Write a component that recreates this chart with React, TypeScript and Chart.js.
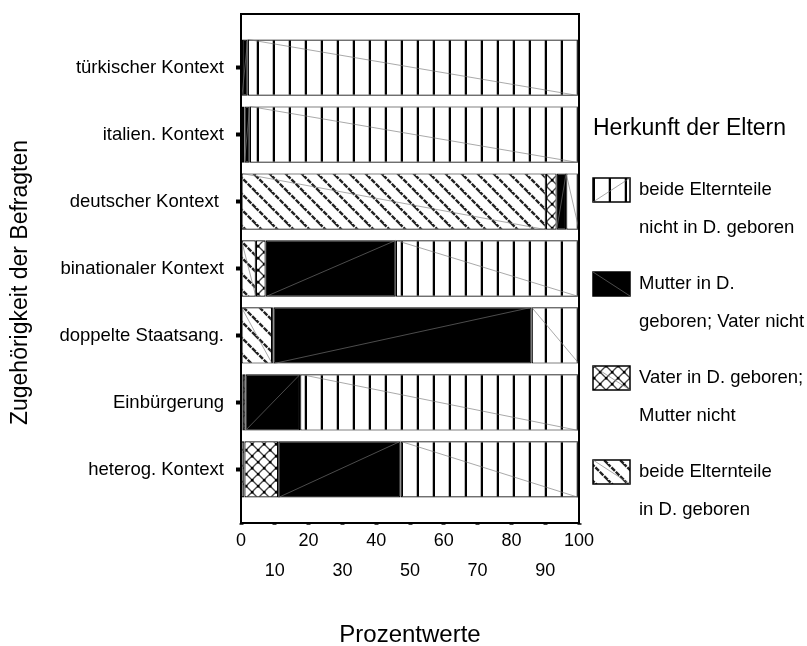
import React, { useEffect, useRef } from "react";
import { Chart, registerables } from "chart.js";

Chart.register(...registerables);

const categories = [
  "türkischer Kontext",
  "italien. Kontext",
  "deutscher Kontext ",
  "binationaler Kontext",
  "doppelte Staatsang.",
  "Einbürgerung",
  "heterog. Kontext",
];

// percentages per category (top to bottom)
const beideInD = [0, 0.3, 90.2, 4.4, 9.2, 0.5, 1.0];
const vaterInD = [0.3, 0.7, 3.2, 2.9, 0.4, 0.8, 10.0];
const mutterInD = [1.7, 1.6, 2.8, 38.5, 76.4, 16.2, 36.2];
const beideNichtInD = [98.0, 97.4, 3.8, 54.2, 14.0, 82.5, 52.8];

const xTicks = [0, 10, 20, 30, 40, 50, 60, 70, 80, 90, 100];

const yTitle = "Zugehörigkeit der Befragten";
const xTitle = "Prozentwerte";
const legendTitle = "Herkunft der Eltern";
const legendItems = [
  { key: "vertical", lines: ["beide Elternteile", "nicht in D. geboren"] },
  { key: "black", lines: ["Mutter in D.", "geboren; Vater nicht"] },
  { key: "cross", lines: ["Vater in D. geboren;", "Mutter nicht"] },
  { key: "diag", lines: ["beide Elternteile", "in D. geboren"] },
];

const FONT = "'Liberation Sans', Arial, sans-serif";

function makeTile(w: number, h: number, draw: (c: CanvasRenderingContext2D) => void) {
  const cv = document.createElement("canvas");
  cv.width = w;
  cv.height = h;
  const c = cv.getContext("2d")!;
  c.fillStyle = "#fff";
  c.fillRect(0, 0, w, h);
  draw(c);
  return cv;
}

function makePatterns(ctx: CanvasRenderingContext2D) {
  const vertical = makeTile(16, 16, (c) => {
    c.fillStyle = "#bbb";
    c.fillRect(0, 0, 1, 16);
    c.fillStyle = "#000";
    c.fillRect(1, 0, 2, 16);
  });
  const diag = makeTile(16, 16, (c) => {
    c.strokeStyle = "#222";
    c.lineWidth = 2.4;
    c.setLineDash([5, 1.2]);
    for (const k of [-16, 0, 16]) {
      c.beginPath();
      c.moveTo(k - 1, -1);
      c.lineTo(k + 17, 17);
      c.stroke();
    }
  });
  const cross = makeTile(12, 12, (c) => {
    c.strokeStyle = "#444";
    c.lineWidth = 1.3;
    for (const k of [-12, 0, 12]) {
      c.beginPath();
      c.moveTo(k - 1, -1);
      c.lineTo(k + 13, 13);
      c.stroke();
      c.beginPath();
      c.moveTo(k - 1, 13);
      c.lineTo(k + 13, -1);
      c.stroke();
    }
    c.fillStyle = "#000";
    c.fillRect(5, 5, 2.5, 2.5);
    c.fillRect(-1, -1, 2.5, 2.5);
    c.fillRect(11, 11, 2, 2);
    c.fillRect(11, -1, 2, 2.5);
    c.fillRect(-1, 11, 2.5, 2);
  });
  return {
    vertical: ctx.createPattern(vertical, "repeat")!,
    diag: ctx.createPattern(diag, "repeat")!,
    cross: ctx.createPattern(cross, "repeat")!,
    black: "#000",
  } as Record<string, any>;
}

export default function App() {
  const ref = useRef<HTMLCanvasElement | null>(null);

  useEffect(() => {
    document.body.style.margin = "0";
    const canvas = ref.current!;
    const ctx = canvas.getContext("2d")!;
    const pats = makePatterns(ctx);

    const toPoints = (arr: number[]) => arr.map((v, i) => ({ x: v, y: i }));

    const diagLinePlugin = {
      id: "segDiag",
      afterDatasetsDraw(chart: any) {
        const c = chart.ctx;
        c.save();
        c.strokeStyle = "rgba(120,120,120,0.8)";
        c.lineWidth = 0.8;
        chart.data.datasets.forEach((ds: any, di: number) => {
          const kind = ds.kind;
          if (kind === "cross") return;
          const meta = chart.getDatasetMeta(di);
          meta.data.forEach((el: any) => {
            const p = el.getProps(["x", "y", "base", "height"], true);
            if (Math.abs(p.x - p.base) < 3) return;
            const top = p.y - p.height / 2;
            const bot = p.y + p.height / 2;
            c.beginPath();
            if (kind === "black") {
              c.moveTo(p.base, bot);
              c.lineTo(p.x, top);
            } else {
              c.moveTo(p.base, top);
              c.lineTo(p.x, bot);
            }
            c.stroke();
          });
        });
        c.restore();
      },
    };

    const framePlugin = {
      id: "frameLegend",
      afterDraw(chart: any) {
        const c = chart.ctx;
        const a = chart.chartArea;
        c.save();
        c.strokeStyle = "#000";
        c.lineWidth = 2;
        c.strokeRect(a.left, a.top, a.right - a.left, a.bottom - a.top);

        // y-axis title
        c.save();
        c.translate(21, (a.top + a.bottom) / 2 + 14);
        c.rotate(-Math.PI / 2);
        c.fillStyle = "#000";
        c.font = `23px ${FONT}`;
        c.textAlign = "center";
        c.textBaseline = "middle";
        c.fillText(yTitle, 0, 0);
        c.restore();

        // legend
        const lx = a.right + 14;
        c.fillStyle = "#000";
        c.textBaseline = "middle";
        c.textAlign = "left";
        c.font = `23px ${FONT}`;
        c.fillText(legendTitle, lx, 129);
        c.font = `18.5px ${FONT}`;
        const boxW = 37;
        const boxH = 24;
        legendItems.forEach((it, i) => {
          const by = 178 + i * 94;
          c.fillStyle = pats[it.key];
          c.fillRect(lx, by, boxW, boxH);
          c.strokeStyle = "#000";
          c.lineWidth = 1.5;
          c.strokeRect(lx, by, boxW, boxH);
          c.strokeStyle = "rgba(120,120,120,0.8)";
          c.lineWidth = 0.8;
          c.beginPath();
          if (it.key === "vertical") {
            c.moveTo(lx, by + boxH);
            c.lineTo(lx + boxW, by);
          } else {
            c.moveTo(lx, by);
            c.lineTo(lx + boxW, by + boxH);
          }
          c.stroke();
          c.fillStyle = "#000";
          c.fillText(it.lines[0], lx + 46, by + boxH / 2);
          c.fillText(it.lines[1], lx + 46, by + boxH / 2 + 38);
        });
        c.restore();
      },
    };

    const mk = (label: string, data: number[], kind: string) => ({
      label,
      kind,
      data: toPoints(data),
      backgroundColor: pats[kind],
      borderColor: "#000",
      borderWidth: 1.2,
      borderSkipped: false,
      barPercentage: 0.84,
      categoryPercentage: 1,
    });

    const chart = new Chart(canvas, {
      type: "bar",
      data: {
        datasets: [
          mk("beide Elternteile in D. geboren", beideInD, "diag"),
          mk("Vater in D. geboren; Mutter nicht", vaterInD, "cross"),
          mk("Mutter in D. geboren; Vater nicht", mutterInD, "black"),
          mk("beide Elternteile nicht in D. geboren", beideNichtInD, "vertical"),
        ] as any,
      },
      options: {
        animation: false,
        responsive: false,
        indexAxis: "y",
        layout: { padding: { left: 0, top: 14, right: 228, bottom: 0 } },
        plugins: { legend: { display: false }, tooltip: { enabled: false } },
        scales: {
          x: {
            type: "linear",
            stacked: true,
            min: 0,
            max: 100,
            offset: false,
            afterBuildTicks: (s: any) => {
              s.ticks = xTicks.map((v) => ({ value: v }));
            },
            afterFit: (s: any) => {
              s.height = 123;
              s.paddingLeft = 0;
              s.paddingRight = 0;
            },
            grid: {
              offset: false,
              drawOnChartArea: false,
              tickLength: 2,
              tickWidth: 4,
              tickColor: "#444",
            },
            border: { display: false },
            ticks: {
              padding: 1,
              color: "#000",
              maxRotation: 0,
              autoSkip: false,
              font: { family: FONT, size: 18, lineHeight: 30 / 18 },
              callback: (v: any) => (Number(v) % 20 === 0 ? String(v) : ["", String(v)]),
            },
            title: {
              display: true,
              text: xTitle,
              color: "#000",
              font: { family: FONT, size: 24 },
              padding: { top: 0, bottom: -4 },
            },
          },
          y: {
            type: "linear",
            stacked: true,
            reverse: true,
            offset: false,
            min: -0.8,
            max: 6.8,
            afterBuildTicks: (s: any) => {
              s.ticks = categories.map((_, i) => ({ value: i }));
            },
            afterFit: (s: any) => {
              s.width = 241;
              s.paddingTop = 0;
              s.paddingBottom = 0;
            },
            grid: {
              offset: false,
              drawOnChartArea: false,
              tickLength: 5,
              tickWidth: 4,
              tickColor: "#000",
            },
            border: { display: false },
            ticks: {
              padding: 12,
              color: "#000",
              autoSkip: false,
              font: { family: FONT, size: 18.5 },
              callback: (v: any) => categories[Number(v)] ?? "",
            },
            title: { display: false },
          },
        },
      },
      plugins: [diagLinePlugin, framePlugin],
    });
    return () => chart.destroy();
  }, []);

  return (
    <div style={{ width: 807, height: 646 }}>
      <canvas ref={ref} width={807} height={646} style={{ display: "block" }} />
    </div>
  );
}
